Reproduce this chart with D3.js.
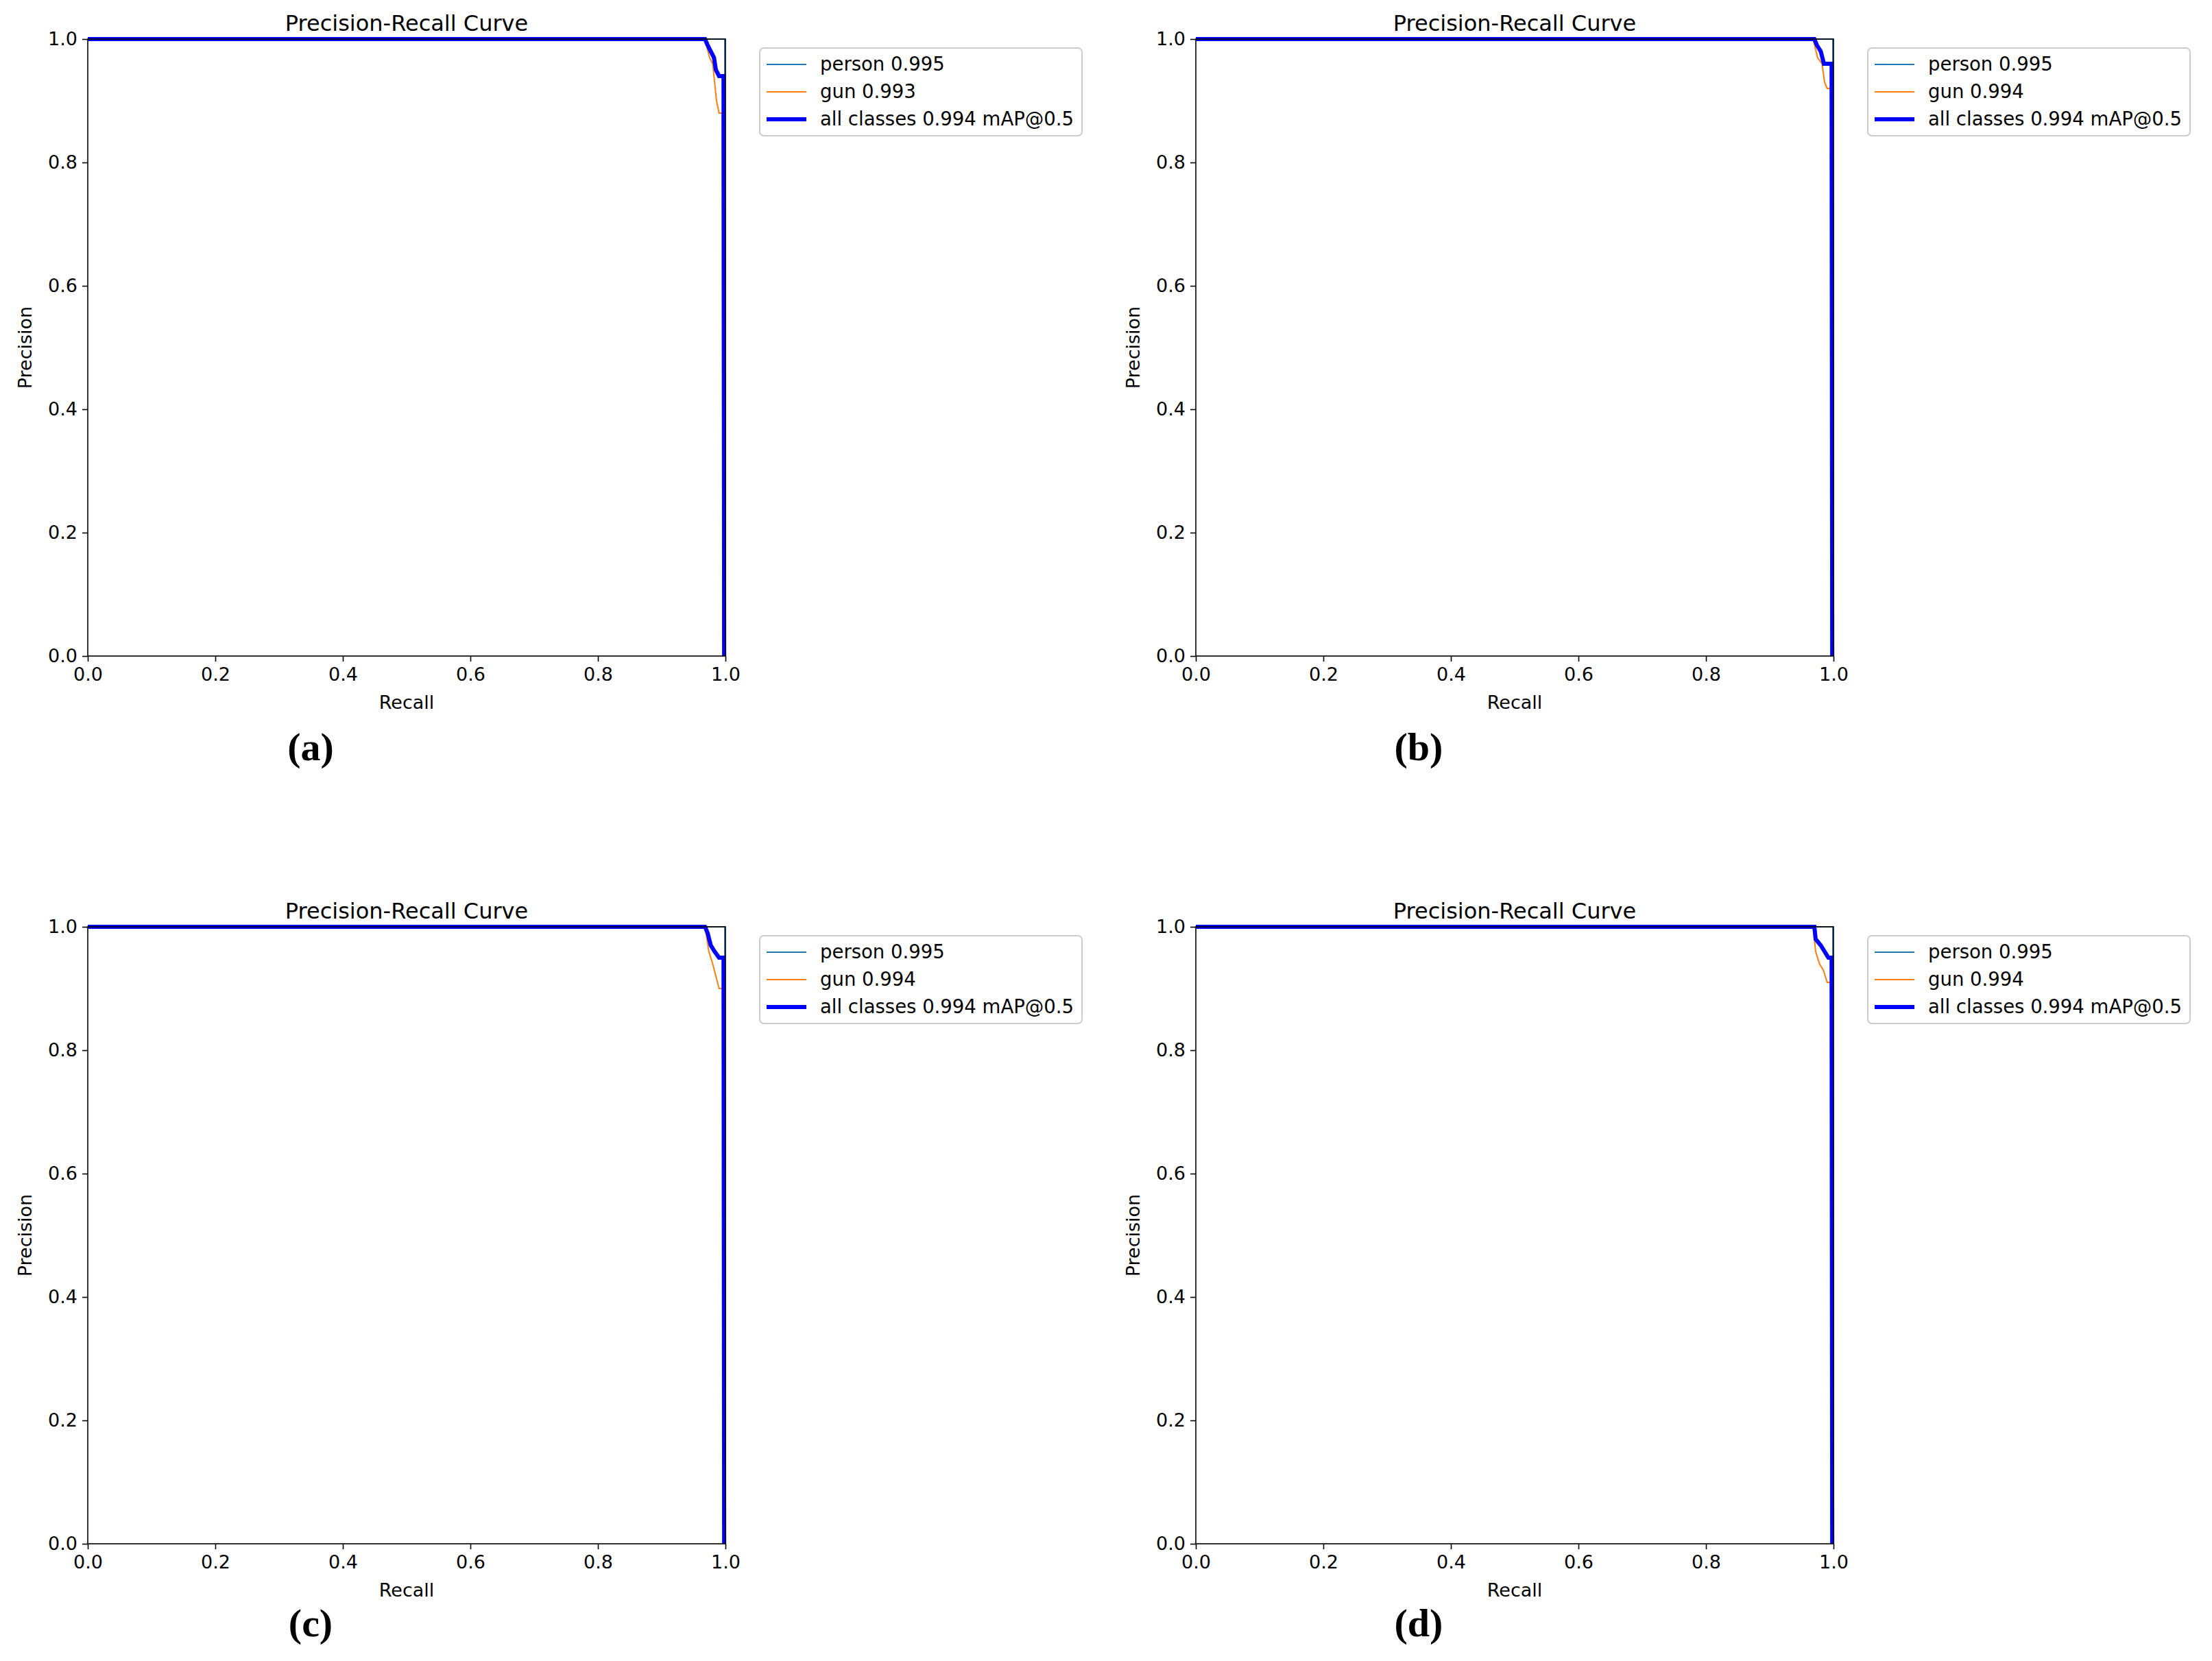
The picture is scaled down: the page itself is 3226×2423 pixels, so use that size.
<!DOCTYPE html><html><head><meta charset="utf-8">
<script src="https://cdn.jsdelivr.net/npm/d3@7"></script>
<style>body{margin:0;background:#fff}</style></head><body>
<svg id="c" width="3226" height="2423"></svg>
<script>
const panelLabels=["(a)","(b)","(c)","(d)"];
const gunAP=["0.993","0.994","0.994","0.994"];
const personAP=["0.995","0.995","0.995","0.995"];
const allAP=["0.994","0.994","0.994","0.994"];
const xTicks=[0,0.2,0.4,0.6,0.8,1.0];
const yTicks=[0,0.2,0.4,0.6,0.8,1.0];
const personCurve=[[0,1],[0.999,1],[0.999,0]];
const gunCurves=[
 [[0,1],[0.968,1],[0.975,0.97],[0.98,0.96],[0.983,0.93],[0.986,0.90],[0.99,0.88],[0.995,0.88],[0.996,0]],
 [[0,1],[0.968,1],[0.975,0.97],[0.982,0.96],[0.986,0.93],[0.99,0.92],[0.996,0.92],[0.997,0]],
 [[0,1],[0.968,1],[0.974,0.96],[0.98,0.94],[0.985,0.92],[0.99,0.90],[0.996,0.90],[0.997,0]],
 [[0,1],[0.968,1],[0.972,0.96],[0.978,0.94],[0.984,0.93],[0.99,0.91],[0.996,0.91],[0.997,0]]];
const allCurves=[
 [[0,1],[0.968,1],[0.972,0.99],[0.977,0.98],[0.982,0.97],[0.985,0.95],[0.99,0.94],[0.997,0.94],[0.998,0]],
 [[0,1],[0.97,1],[0.974,0.99],[0.98,0.98],[0.985,0.96],[0.997,0.96],[0.998,0]],
 [[0,1],[0.968,1],[0.972,0.99],[0.977,0.97],[0.983,0.96],[0.99,0.95],[0.997,0.95],[0.998,0]],
 [[0,1],[0.97,1],[0.972,0.98],[0.98,0.97],[0.986,0.96],[0.992,0.95],[0.997,0.95],[0.998,0]]];

const svg=d3.select("#c");
const F="DejaVu Sans";
const pos=[[128,57],[1744,57],[128,1352],[1744,1352]];
const W=930,H=900;
pos.forEach(([px,py],i)=>{
  const g=svg.append("g").attr("transform",`translate(${px},${py})`);
  const x=d3.scaleLinear().domain([0,1]).range([0,W]);
  const y=d3.scaleLinear().domain([0,1]).range([H,0]);
  const lineL=d3.line().x(d=>x(d[0])).y(d=>y(d[1]));
  g.append("path").attr("d",lineL(personCurve)).attr("fill","none").attr("stroke","#1f77b4").attr("stroke-width",2);
  g.append("path").attr("d",lineL(gunCurves[i])).attr("fill","none").attr("stroke","#ff7f0e").attr("stroke-width",2);
  g.append("path").attr("d",lineL(allCurves[i])).attr("fill","none").attr("stroke","#0000ff").attr("stroke-width",6);
  const xa=g.append("g").attr("transform",`translate(0,${H})`).call(d3.axisBottom(x).tickValues(xTicks).tickFormat(d3.format(".1f")).tickSize(8).tickPadding(9));
  const ya=g.append("g").call(d3.axisLeft(y).tickValues(yTicks).tickFormat(d3.format(".1f")).tickSize(8).tickPadding(7));
  [xa,ya].forEach(a=>{a.selectAll("text").attr("font-family",F).attr("font-size",27).attr("fill","#000");a.selectAll("line").attr("stroke-width",1.6);a.select(".domain").remove();});
  g.append("rect").attr("width",W).attr("height",H).attr("fill","none").attr("stroke","#000").attr("stroke-width",1.6);
  g.append("text").attr("x",W/2).attr("y",-12).attr("text-anchor","middle").attr("font-family",F).attr("font-size",32).text("Precision-Recall Curve");
  g.append("text").attr("x",W/2).attr("y",H+77).attr("text-anchor","middle").attr("font-family",F).attr("font-size",27).text("Recall");
  g.append("text").attr("transform",`translate(-82,${H/2}) rotate(-90)`).attr("text-anchor","middle").attr("font-family",F).attr("font-size",27).text("Precision");
  g.append("text").attr("x",325).attr("y",H+(i<2?152:135)).attr("text-anchor","middle").attr("font-family","Liberation Serif").attr("font-weight","bold").attr("font-size",58).text(panelLabels[i]);
  const lg=g.append("g").attr("transform",`translate(${W+50},13)`);
  lg.append("rect").attr("width",967).attr("height",128).attr("rx",6).attr("fill","#fff").attr("stroke","#ccc").attr("stroke-width",2).attr("width",470);
  const items=[["person "+personAP[i],"#1f77b4",2],["gun "+gunAP[i],"#ff7f0e",2],["all classes "+allAP[i]+" mAP@0.5","#0000ff",6]];
  items.forEach((it,k)=>{
    const yy=24+k*40;
    lg.append("line").attr("x1",10).attr("x2",68).attr("y1",yy).attr("y2",yy).attr("stroke",it[1]).attr("stroke-width",it[2]);
    lg.append("text").attr("x",88).attr("y",yy+9).attr("font-family",F).attr("font-size",27.5).text(it[0]);
  });
});
</script></body></html>
